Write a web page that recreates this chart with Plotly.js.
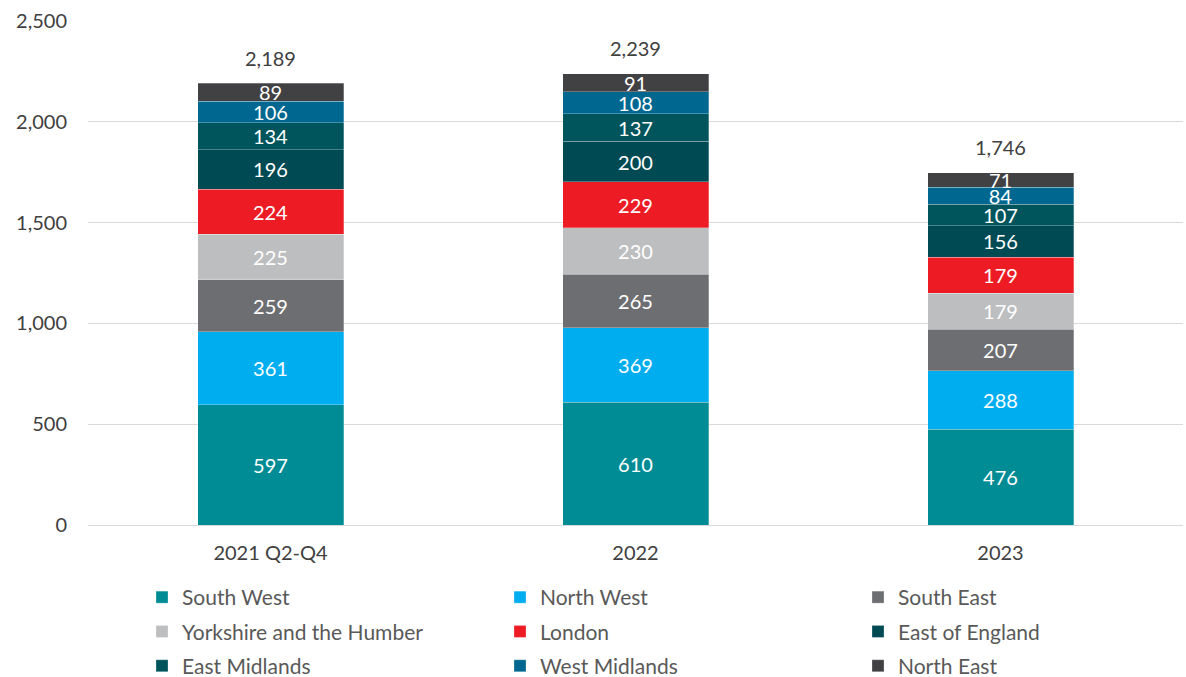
<!DOCTYPE html>
<html><head><meta charset="utf-8">
<script src="https://cdn.plot.ly/plotly-3.0.1.min.js"></script>
<style>html,body{margin:0;padding:0;background:#fff}#chart{width:1186px;height:677px}</style>
</head><body><div id="chart"></div>
<script>
const categories = ["2021 Q2-Q4", "2022", "2023"];
const regions = ["South West","North West","South East","Yorkshire and the Humber","London","East of England","East Midlands","West Midlands","North East"];
const southWest = [597, 610, 476];
const northWest = [361, 369, 288];
const southEast = [259, 265, 207];
const yorkshire = [225, 230, 179];
const london = [224, 229, 179];
const eastOfEngland = [196, 200, 156];
const eastMidlands = [134, 137, 107];
const westMidlands = [106, 108, 84];
const northEast = [89, 91, 71];
const totals = [2189, 2239, 1746];
const colors = ["#008C95","#00AEEF","#6D6E71","#BCBEC0","#ED1C24","#004A54","#00555C","#006890","#414042"];

const series = [southWest, northWest, southEast, yorkshire, london, eastOfEngland, eastMidlands, westMidlands, northEast];
const legendIds = ['legend', 'legend2', 'legend3'];
const FONT = "Lato, 'Open Sans', sans-serif";
const traces = series.map((vals, i) => ({
  type: 'bar', name: regions[i], x: categories, y: vals,
  legend: legendIds[i % 3], legendgroup: 'g' + i,
  marker: {color: colors[i], line: {color: 'rgba(255,255,255,0.45)', width: 0.6}},
  text: vals.map(v => String(v)), textposition: 'inside', insidetextanchor: 'middle',
  constraintext: 'none', textangle: 0,
  textfont: {color: '#ffffff', size: 20, family: FONT},
  hoverinfo: 'none'
}));

const annotations = categories.map((c, i) => ({
  x: i, y: totals[i], xref: 'x', yref: 'y', yanchor: 'bottom', yshift: 12,
  text: totals[i].toLocaleString('en-GB'), showarrow: false,
  font: {size: 20, color: '#404040', family: FONT}
}));

function legendAt(px) {
  return {orientation: 'v', x: (px - 88) / 1095, xref: 'paper', xanchor: 'left',
          y: 1 - 577 / 677, yref: 'container', yanchor: 'top',
          traceorder: 'grouped', tracegroupgap: 4, bgcolor: 'rgba(0,0,0,0)',
          font: {size: 21, color: '#595959', family: FONT}};
}

const layout = {
  width: 1186, height: 677,
  margin: {l: 88, r: 3, t: 21, b: 152},
  barmode: 'stack', bargap: 0.6,
  paper_bgcolor: '#fff', plot_bgcolor: '#fff',
  font: {family: FONT, color: '#404040', size: 20},
  xaxis: {type: 'category', categoryarray: categories, range: [-0.5, 2.5], ticklabelstandoff: 14,
          tickangle: 0, automargin: false,
          tickfont: {size: 20, color: '#404040'}, showline: false, ticks: '', showgrid: false},
  yaxis: {range: [0, 2500], dtick: 500, tickformat: ',d', showgrid: true, gridcolor: '#D9D9D9', gridwidth: 1,
          zeroline: true, zerolinecolor: '#D9D9D9', zerolinewidth: 1, ticks: '', ticklabelstandoff: 20,
          automargin: false, tickfont: {size: 20, color: '#404040'}},
  legend: legendAt(142),
  legend2: legendAt(500),
  legend3: legendAt(858),
  annotations: annotations,
  showlegend: true
};
Plotly.newPlot('chart', traces, layout, {displayModeBar: false, staticPlot: true});
</script></body></html>
